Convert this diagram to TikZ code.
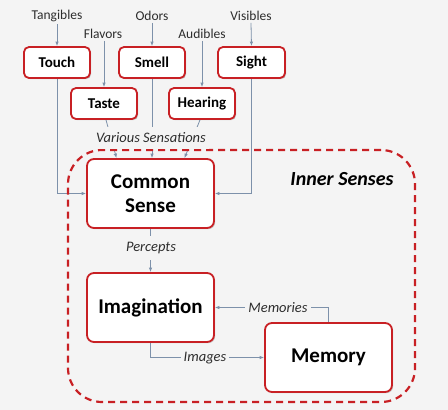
\documentclass[tikz,border=0pt]{standalone}
\usepackage{fontspec}
\setmainfont{Carlito}
\usetikzlibrary{arrows.meta,calc,shadows}
\definecolor{bgc}{HTML}{F4F4F4}
\definecolor{boxred}{RGB}{200,32,36}
\definecolor{conn}{RGB}{125,145,170}
\definecolor{labc}{RGB}{45,45,45}
\pgfdeclarelayer{back}
\pgfdeclarelayer{lines}
\pgfsetlayers{back,lines,main}
\tikzset{
  boxshadow/.style={drop shadow={shadow xshift=1.2pt, shadow yshift=-1.2pt, opacity=0.18, fill=black}},
  sensebox/.style={draw=boxred, line width=1.8pt, fill=white, rounded corners=5pt,
    minimum width=66pt, minimum height=31pt, inner sep=0pt, boxshadow,
    font=\fontsize{15}{18}\selectfont\bfseries},
  bigbox/.style={draw=boxred, line width=1.8pt, fill=white, rounded corners=7pt,
    minimum width=127pt, minimum height=69pt, inner sep=0pt, align=center, boxshadow,
    font=\fontsize{21}{24}\selectfont\bfseries},
  inlab/.style={text=labc, inner sep=2pt, font=\fontsize{13.5}{16}\selectfont},
  flowlab/.style={text=labc, fill=bgc, inner xsep=3pt, inner ysep=6pt,
    font=\fontsize{14.5}{17}\selectfont\itshape},
  arr/.style={draw=conn, line width=0.8pt, -{Latex[length=4.5pt,width=3.5pt]}},
}
\begin{document}
\begin{tikzpicture}[x=1pt,y=-1pt]
\begin{pgfonlayer}{back}
  \fill[bgc] (0,0) rectangle (448,410);
\end{pgfonlayer}
\useasboundingbox (0,0) rectangle (448,410);

% dashed inner senses frame
\node[draw=boxred, line width=2.2pt, dash pattern=on 7pt off 5pt, rounded corners=34pt,
  minimum width=347pt, minimum height=252pt, inner sep=0pt] (frame) at (241.5,276) {};
\node[font=\fontsize{20}{24}\selectfont\bfseries\itshape] (inner) at (342,179) {Inner Senses};

% sense boxes
\node[sensebox] (touch) at (57,62.5) {Touch};
\node[sensebox] (smell) at (152,62.5) {Smell};
\node[sensebox, minimum width=67pt] (sight) at (251.5,62.5) {Sight};
\node[sensebox] (taste) at (104,103.5) {Taste};
\node[sensebox] (hear) at (202,103.5) {Hearing};

% inputs
\node[inlab] (tang) at (57,16) {Tangibles};
\node[inlab] (flav) at (103,34) {Flavors};
\node[inlab] (odor) at (152,16) {Odors};
\node[inlab] (aud) at (202,34) {Audibles};
\node[inlab] (vis) at (251,16) {Visibles};

% inner boxes
\node[bigbox] (cs) at (150.5,193.5) {Common\\Sense};
\node[bigbox] (imag) at (150.5,307.5) {Imagination};
\node[bigbox] (mem) at (328.5,357.5) {Memory};

% flow labels
\node[flowlab] (various) at (151,138) {Various Sensations};
\node[flowlab] (percepts) at (151,248) {Percepts};
\node[flowlab] (memories) at (278,308) {Memories};
\node[flowlab] (images) at (205,358) {Images};

\coordinate (cstaste) at ($(cs.north)+(-34,0)$);
\coordinate (cshear) at ($(cs.north)+(34,0)$);

\begin{pgfonlayer}{lines}
  \draw[arr] (tang.south) -- (touch.north);
  \draw[arr] (taste.north |- flav.south) -- (taste.north);
  \draw[arr] (odor.south) -- (smell.north);
  \draw[arr] (hear.north |- aud.south) -- (hear.north);
  \draw[arr] (vis.south) -- (sight.north);

  \draw[arr] (touch.south) |- (cs.west);
  \draw[arr] (sight.south) |- (cs.east);
  \draw[arr] (smell.south) -- (smell.south |- cs.north);
  \draw[arr] ($(taste.south)+(2,0)$) -- (cstaste);
  \draw[arr] ($(hear.south)+(-2,0)$) -- (cshear);

  \draw[arr] (cs.south) -- (imag.north);
  \draw[arr] (mem.north) |- (imag.east);
  \draw[arr] (imag.south) |- (mem.west);
\end{pgfonlayer}
\end{tikzpicture}
\end{document}
